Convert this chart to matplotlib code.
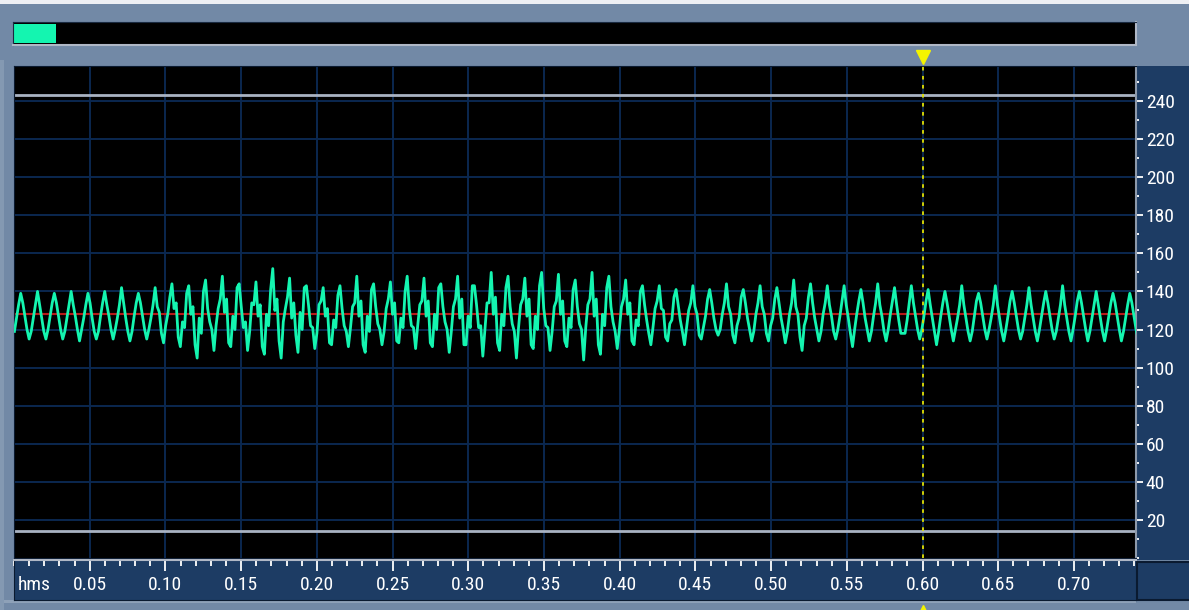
from matplotlib import pyplot as plt
from matplotlib import font_manager
from matplotlib.patches import Rectangle
from matplotlib.ticker import MultipleLocator
import numpy as np

# Marcas y etiquetas de los ejes
valores_x = [0.05, 0.10, 0.15, 0.20, 0.25, 0.30, 0.35, 0.40, 0.45, 0.50, 0.55, 0.60, 0.65, 0.70]
etiquetas_x = ["0.05", "0.10", "0.15", "0.20", "0.25", "0.30", "0.35", "0.40",
               "0.45", "0.50", "0.55", "0.60", "0.65", "0.70"]
valores_y = [20, 40, 60, 80, 100, 120, 140, 160, 180, 200, 220, 240]
etiqueta_tiempo = "hms"

# Niveles fijos: centro, limites de recorte y cursor
nivel_centro = 128
niveles_recorte = [14, 243]
cursor = 0.60

# Onda: tramo inicial y un ciclo por fila
# (pico, 3 de bajada, valle, 3 de subida)
inicio = [119, 126, 133]
ciclos = [
    [139, 134, 127, 120, 115, 119, 126, 133],
    [140, 133, 126, 119, 115, 120, 127, 134],
    [139, 134, 127, 120, 115, 119, 126, 133],
    [140, 133, 127, 120, 114, 120, 126, 133],
    [139, 134, 126, 119, 115, 119, 127, 134],
    [140, 133, 127, 120, 115, 120, 126, 133],
    [142, 134, 126, 119, 114, 119, 127, 134],
    [139, 134, 127, 120, 115, 120, 126, 133],
    [142, 132, 129, 118, 113, 122, 128, 137],
    [144, 131, 134, 116, 111, 124, 121, 139],
    [143, 128, 132, 112, 105, 126, 118, 140],
    [146, 131, 124, 120, 109, 122, 131, 136],
    [148, 129, 136, 113, 111, 127, 120, 142],
    [144, 132, 121, 124, 109, 119, 134, 133],
    [145, 127, 133, 111, 107, 128, 122, 141],
    [152, 130, 136, 114, 105, 124, 131, 137],
    [147, 126, 134, 117, 108, 129, 120, 142],
    [143, 133, 122, 121, 110, 118, 133, 135],
    [142, 127, 131, 113, 112, 125, 121, 138],
    [143, 131, 122, 119, 111, 121, 132, 134],
    [148, 127, 135, 112, 108, 127, 119, 141],
    [144, 132, 123, 120, 112, 119, 131, 136],
    [145, 128, 134, 114, 113, 126, 121, 140],
    [148, 131, 122, 121, 110, 122, 133, 135],
    [147, 127, 135, 113, 111, 128, 120, 142],
    [144, 132, 124, 120, 108, 119, 132, 136],
    [148, 126, 136, 112, 112, 127, 121, 143],
    [143, 133, 121, 122, 106, 120, 134, 134],
    [150, 128, 137, 113, 109, 128, 122, 142],
    [148, 132, 123, 119, 105, 121, 133, 136],
    [147, 127, 136, 112, 110, 127, 120, 143],
    [150, 131, 122, 121, 109, 119, 132, 135],
    [149, 128, 135, 114, 111, 126, 121, 141],
    [146, 132, 123, 120, 104, 121, 133, 136],
    [150, 127, 136, 112, 107, 128, 122, 142],
    [148, 132, 124, 119, 110, 120, 132, 136],
    [146, 128, 134, 114, 112, 125, 122, 140],
    [143, 133, 125, 118, 112, 121, 131, 135],
    [143, 131, 130, 116, 114, 123, 125, 137],
    [141, 133, 125, 119, 112, 121, 130, 134],
    [143, 132, 128, 117, 115, 121, 127, 136],
    [141, 134, 126, 120, 117, 120, 128, 134],
    [144, 132, 128, 117, 113, 122, 126, 137],
    [141, 134, 126, 120, 114, 119, 128, 134],
    [143, 132, 128, 118, 114, 122, 126, 136],
    [142, 134, 126, 120, 113, 119, 128, 134],
    [146, 132, 128, 116, 109, 122, 126, 137],
    [144, 134, 126, 120, 114, 119, 128, 134],
    [143, 133, 127, 119, 115, 120, 127, 135],
    [143, 133, 126, 118, 111, 120, 128, 135],
    [141, 134, 126, 120, 114, 119, 127, 134],
    [144, 133, 127, 119, 114, 120, 128, 135],
    [142, 133, 125, 118, 118, 118, 125, 134],
    [143, 134, 127, 120, 115, 120, 127, 135],
    [141, 133, 126, 119, 112, 119, 127, 134],
    [140, 134, 127, 120, 114, 120, 126, 133],
    [143, 133, 126, 119, 114, 119, 127, 135],
    [139, 134, 127, 120, 115, 120, 126, 133],
    [143, 133, 126, 119, 114, 120, 127, 135],
    [140, 134, 127, 120, 115, 119, 126, 133],
    [142, 133, 126, 119, 114, 120, 127, 134],
    [140, 134, 127, 120, 115, 119, 126, 133],
    [143, 133, 126, 119, 114, 120, 127, 135],
    [140, 134, 127, 120, 114, 119, 126, 133],
    [140, 133, 126, 119, 114, 120, 127, 134],
    [139, 134, 127, 120, 114, 119, 126, 133],
    [139, 134, 127, 120, 115, 120, 126, 133],
]
periodo = 0.011098
primer_pico = 0.00443

# Colores de la interfaz
gris_fondo = "#7289a6"
azul_panel = "#1d3c64"
azul_rejilla = "#0b2850"
verde_onda = "#14f5b0"

# Fuente estrecha si existe alguna instalada
nombres = {f.name for f in font_manager.fontManager.ttflist}
candidatas = ["Liberation Sans Narrow", "DejaVu Sans Condensed", "Roboto Condensed", "Liberation Sans"]
fuente = next((n for n in candidatas if n in nombres), "DejaVu Sans")
tam = 14

# Eje de tiempo de las muestras
muestras = inicio + [v for fila in ciclos for v in fila]
paso = periodo / 8
t = primer_pico - len(inicio) * paso + np.arange(len(muestras)) * paso

W, H = 1189, 610
fig = plt.figure(figsize=(W / 100, H / 100), dpi=100, facecolor=gris_fondo)


def caja(x0, y0, x1, y1):
    # Convierte pixeles de la imagen a fracciones de la figura
    return [x0 / W, 1 - y1 / H, (x1 - x0) / W, (y1 - y0) / H]


def rect_fig(x0, y0, x1, y1, color, borde="none"):
    r = caja(x0, y0, x1, y1)
    fig.patches.append(Rectangle((r[0], r[1]), r[2], r[3], transform=fig.transFigure,
                                 facecolor=color, edgecolor=borde, lw=1.5, zorder=-5))


# Bordes claros y paneles azules
rect_fig(0, 0, W, 4, "#eef0f4")
rect_fig(0, 60, 4, H, "#8499b2")
rect_fig(4, 600, 1136, 603, "#8ea1b8")
rect_fig(1136, 66, W, 560, azul_panel)
rect_fig(1137, 562, W + 2, 600, azul_panel, "#0a1a30")

# Barra superior con el indicador de vista
ax_barra = fig.add_axes(caja(13, 22, 1136, 45), facecolor="black")
ax_barra.set_xticks([])
ax_barra.set_yticks([])
for lado in ["top", "left"]:
    ax_barra.spines[lado].set_color("#1a2a40")
for lado in ["bottom", "right"]:
    ax_barra.spines[lado].set_color("#b0b8c6")
    ax_barra.spines[lado].set_linewidth(1.5)
ax_barra.add_patch(Rectangle((0.001, 0.08), 0.037, 0.84, transform=ax_barra.transAxes,
                             facecolor=verde_onda, edgecolor="none"))

# Grafico principal
ax = fig.add_axes(caja(14, 66, 1136, 558), facecolor="black")
ax.set_xlim(0, 0.741)
ax.set_ylim(0, 258.4)
ax.set_xticks(valores_x)
ax.set_yticks(valores_y)
ax.yaxis.set_minor_locator(MultipleLocator(10))
ax.yaxis.tick_right()
ax.tick_params(axis="x", bottom=False, labelbottom=False)
ax.tick_params(axis="y", which="major", colors="white", length=5, width=1.3, pad=2, labelsize=tam)
ax.tick_params(axis="y", which="minor", colors="white", length=2, width=1.3)
for lbl in ax.get_yticklabels():
    lbl.set_family(fuente)
ax.grid(True, color=azul_rejilla, lw=1.4)
ax.set_axisbelow(True)
for lado in ["top", "left", "bottom"]:
    ax.spines[lado].set_color("#0a1a30")
ax.spines["right"].set_color("#8d99aa")
ax.spines["right"].set_linewidth(1.5)

ax.axhline(nivel_centro, color="#b81818", lw=1.5, zorder=2)
for nivel in niveles_recorte:
    ax.axhline(nivel, color="#a9b3c3", lw=2, zorder=2)
ax.plot(t, muestras, color=verde_onda, lw=2.0, zorder=3)
ax.axvline(cursor, color="#e0e000", lw=1.3, ls=(0, (2, 3)), zorder=4)

# Triangulos del cursor arriba y abajo
ax.plot([cursor], [1.0183], marker="v", ms=9.5, color="#f4f400", transform=ax.get_xaxis_transform(),
        clip_on=False)
ax.plot([cursor], [-0.109], marker="^", ms=9.5, color="#f4f400", transform=ax.get_xaxis_transform(),
        clip_on=False)

# Regla de tiempo inferior
ax_inf = fig.add_axes(caja(14, 560, 1136, 600), facecolor=azul_panel)
ax_inf.set_xlim(0, 0.741)
ax_inf.set_yticks([])
ax_inf.set_xticks(valores_x, etiquetas_x)
ax_inf.xaxis.set_minor_locator(MultipleLocator(0.01))
ax_inf.tick_params(axis="x", which="both", bottom=False, top=True, direction="in",
                   colors="white", labelbottom=True, pad=-17, labelsize=tam)
ax_inf.tick_params(axis="x", which="major", length=8, width=1.3)
ax_inf.tick_params(axis="x", which="minor", length=4, width=1.3)
for lbl in ax_inf.get_xticklabels():
    lbl.set_family(fuente)
ax_inf.text(0.003, 0.38, etiqueta_tiempo, transform=ax_inf.transAxes, ha="left", va="center",
            color="white", fontsize=tam, family=fuente)
ax_inf.spines["top"].set_color("#b0b8c6")
ax_inf.spines["top"].set_linewidth(1.5)
for lado in ["left", "bottom", "right"]:
    ax_inf.spines[lado].set_color("#0a1a30")

plt.savefig("out.png", dpi=100, facecolor=gris_fondo)
